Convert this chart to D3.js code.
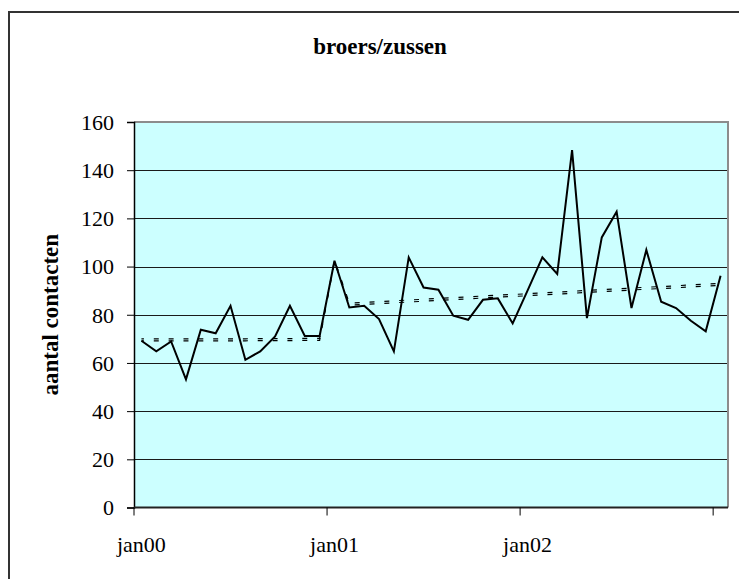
<!DOCTYPE html>
<html>
<head>
<meta charset="utf-8">
<script src="https://cdn.jsdelivr.net/npm/d3@7"></script>
<style>
  body { margin: 0; background: #fff; }
  svg { display: block; }
  text { font-family: 'Liberation Serif', 'Times New Roman', serif; fill: #000; }
</style>
</head>
<body>
<svg id="chart"></svg>
<script>
// 4-week periods, 13 per year, jan00 .. jan03
const periods = d3.range(40)
const tickIndex = [0, 13, 26]
const tickLabels = ['jan00', 'jan01', 'jan02']
const yTicks = [0, 20, 40, 60, 80, 100, 120, 140, 160]

const contacts = [
  69.2, 64.8, 68.9, 53.2, 73.8, 72.3, 83.7, 61.3, 64.8, 71.0, 83.7, 71.2, 71.2,
  102.4, 83.0, 83.7, 78.2, 64.8, 103.8, 91.3, 90.4, 79.6, 77.9, 86.2, 86.8, 76.4,
  90.0, 103.8, 96.9, 148.3, 78.6, 112.1, 122.8, 82.8, 106.9, 85.4, 82.8, 77.5, 73.1,
  96.2
]

const trend = [
  69.6, 69.6, 69.6, 69.6, 69.6, 69.6, 69.6, 69.6, 69.7, 69.7, 69.7, 69.8, 69.8,
  102.4, 84.4, 84.7, 85.0, 85.4, 85.7, 86.0, 86.4, 86.7, 87.0, 87.4, 87.7, 88.0,
  88.3, 88.7, 89.0, 89.3, 89.7, 90.0, 90.3, 90.7, 91.0, 91.3, 91.6, 92.0, 92.3,
  92.6
]

const w = 739
const h = 579
const plotLeft = 134
const plotRight = 728
const plotTop = 122
const plotBottom = 507.5

const svg = d3.select('#chart').attr('width', w).attr('height', h)

// outer frame
svg.append('path')
  .attr('d', `M9,${h + 2} V12 H${w + 2}`)
  .attr('fill', 'none')
  .attr('stroke', '#333')
  .attr('stroke-width', 2)

const x = d3.scaleBand().domain(periods).range([plotLeft, plotRight])
const y = d3.scaleLinear().domain([0, 160]).range([plotBottom, plotTop])

svg.append('rect')
  .attr('x', plotLeft)
  .attr('y', plotTop)
  .attr('width', plotRight - plotLeft)
  .attr('height', plotBottom - plotTop)
  .attr('fill', '#ccffff')

// gridlines
svg.append('g')
  .selectAll('line')
  .data(yTicks.filter((d) => d > 0 && d < 160))
  .join('line')
  .attr('x1', plotLeft)
  .attr('x2', plotRight)
  .attr('y1', (d) => Math.round(y(d)) + 0.5)
  .attr('y2', (d) => Math.round(y(d)) + 0.5)
  .attr('stroke', '#1a1a1a')
  .attr('stroke-width', 1)

// plot border (grey top/right)
svg.append('path')
  .attr('d', `M${plotLeft},${plotTop} H${plotRight} V${plotBottom}`)
  .attr('fill', 'none')
  .attr('stroke', '#8c8c8c')
  .attr('stroke-width', 2)

// y axis
const yAxis = svg.append('g')
  .attr('transform', `translate(${plotLeft},0)`)
  .call(d3.axisLeft(y).tickValues(yTicks).tickSize(7).tickPadding(13))
yAxis.select('.domain').attr('stroke', '#000').attr('stroke-width', 1.5)
yAxis.selectAll('.tick line').attr('stroke', '#000')
yAxis.selectAll('text')
  .style('font-size', '22px')
  .attr('dy', '0.33em')

// x axis: tick marks on period boundaries every 13 periods
const xAxis = svg.append('g')
  .attr('transform', `translate(0,${plotBottom})`)
xAxis.append('line')
  .attr('x1', plotLeft)
  .attr('x2', plotRight)
  .attr('stroke', '#222')
  .attr('stroke-width', 2)
xAxis.selectAll('line.tick')
  .data([0, 13, 26, 39])
  .join('line')
  .attr('class', 'tick')
  .attr('x1', (d) => x(d))
  .attr('x2', (d) => x(d))
  .attr('y1', 0)
  .attr('y2', 8)
  .attr('stroke', '#000')
xAxis.selectAll('text')
  .data(tickIndex)
  .join('text')
  .attr('x', (d) => x(d) + x.bandwidth() / 2)
  .attr('y', 44)
  .attr('text-anchor', 'middle')
  .style('font-size', '22px')
  .text((d, i) => tickLabels[i])

const cx = (d, i) => x(i) + x.bandwidth() / 2
const line = d3.line().x(cx).y((d) => y(d))

// trend (short double dashes)
svg.append('path')
  .datum(trend)
  .attr('fill', 'none')
  .attr('stroke', '#000')
  .attr('stroke-width', 1.2)
  .attr('stroke-dasharray', '5 9.85')
  .attr('stroke-dashoffset', 2.5)
  .attr('transform', 'translate(0,-1)')
  .attr('d', line)
svg.append('path')
  .datum(trend)
  .attr('fill', 'none')
  .attr('stroke', '#000')
  .attr('stroke-width', 1.2)
  .attr('stroke-dasharray', '5 9.85')
  .attr('stroke-dashoffset', 2.5)
  .attr('transform', 'translate(0,1)')
  .attr('d', line)

// contacts
svg.append('path')
  .datum(contacts)
  .attr('fill', 'none')
  .attr('stroke', '#000')
  .attr('stroke-width', 2)
  .attr('stroke-linejoin', 'miter')
  .attr('d', line)

// title
svg.append('text')
  .attr('x', 380)
  .attr('y', 54)
  .attr('text-anchor', 'middle')
  .style('font-size', '23px')
  .style('font-weight', 'bold')
  .text('broers/zussen')

// y label
svg.append('text')
  .attr('transform', `translate(58,${(plotTop + plotBottom) / 2}) rotate(-90)`)
  .attr('text-anchor', 'middle')
  .style('font-size', '23px')
  .style('font-weight', 'bold')
  .text('aantal contacten')
</script>
</body>
</html>
